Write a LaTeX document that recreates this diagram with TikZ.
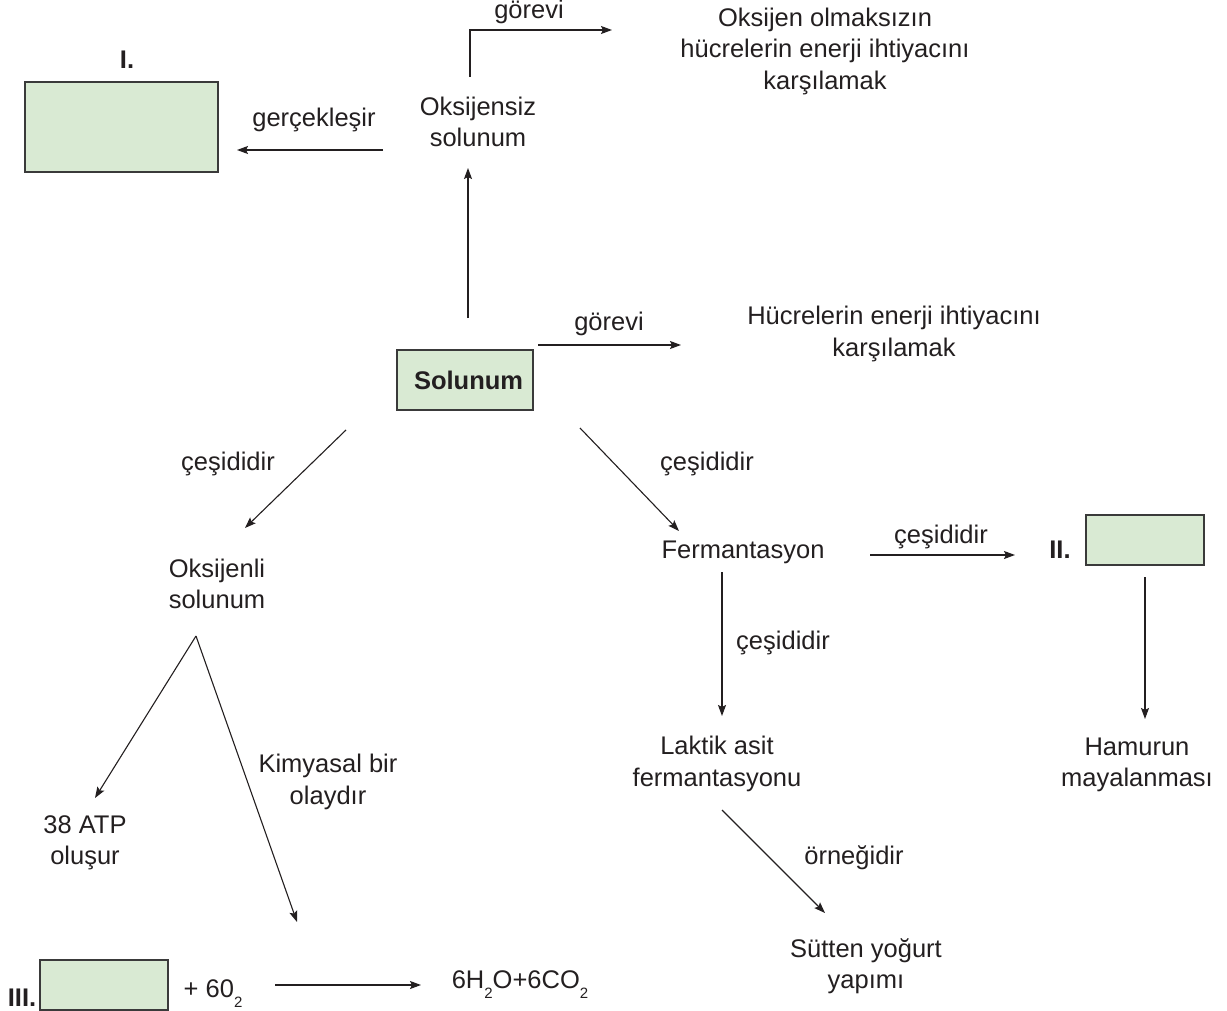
\documentclass[tikz,border=0pt]{standalone}
\usepackage{fontspec}
\setmainfont{Liberation Sans}
\usetikzlibrary{arrows.meta}
\definecolor{boxfill}{HTML}{D9EAD3}
\definecolor{boxdraw}{HTML}{3A3A3A}
\definecolor{txt}{HTML}{231F20}
\newcommand{\lowsub}[1]{\raisebox{-10pt}{\fontsize{15}{15}\selectfont #1}}
\tikzset{
  lbl/.style={font=\fontsize{25.5}{31.5}\selectfont, text=txt, align=center, inner sep=0pt},
  blbl/.style={lbl, font=\fontsize{25.5}{31.5}\selectfont\bfseries},
  gbox/.style={draw=boxdraw, fill=boxfill, line width=1.3pt, inner sep=0pt},
  arr/.style={-{Stealth[length=11pt,width=8pt,inset=2pt]}, line width=1.1pt, draw=txt},
  ln/.style={line width=1.1pt, draw=txt}
}
\begin{document}
\begin{tikzpicture}[x=1pt,y=-1pt]
\useasboundingbox (0,0) rectangle (1227,1011);
% boxes
\node[gbox, minimum width=193pt, minimum height=90pt] (boxI) at (121.5,127) {};
\node[blbl] (lI) at (127,60) {I.};
\node[gbox, minimum width=136pt, minimum height=60pt, blbl] (sol) at (465,380) {\ Solunum};
\node[gbox, minimum width=118pt, minimum height=50pt] (boxII) at (1145,540) {};
\node[blbl] (lII) at (1060,550) {II.};
\node[gbox, minimum width=128pt, minimum height=50pt] (boxIII) at (104,985) {};
\node[blbl] (lIII) at (22,998) {III.};
% texts
\node[lbl] (oksz) at (478,122) {Oksijensiz\\solunum};
\node[lbl] (gorevi1) at (529,12) {görevi};
\node[lbl] (gerc) at (314,120) {gerçekleşir};
\node[lbl] (okst) at (825,51) {Oksijen olmaksızın\\hücrelerin enerji ihtiyacını\\karşılamak};
\node[lbl] (gorevi2) at (609,324) {görevi};
\node[lbl] (huc) at (894,334) {Hücrelerin enerji ihtiyacını\\karşılamak};
\node[lbl] (ces1) at (228,464) {çeşididir};
\node[lbl] (ces2) at (707,464) {çeşididir};
\node[lbl] (okl) at (217,584) {Oksijenli\\solunum};
\node[lbl] (ferm) at (743,552) {Fermantasyon};
\node[lbl] (ces3) at (941,537) {çeşididir};
\node[lbl] (ces4) at (783,643) {çeşididir};
\node[lbl] (hamur) at (1137,765) {Hamurun\\mayalanması};
\node[lbl] (laktik) at (717,764) {Laktik asit\\fermantasyonu};
\node[lbl] (ornek) at (854,858) {örneğidir};
\node[lbl] (sut) at (866,966) {Sütten yoğurt\\yapımı};
\node[lbl] (kim) at (328,782) {Kimyasal bir\\olaydır};
\node[lbl] (atp) at (85,843) {38 ATP\\oluşur};
\node[lbl, anchor=base] (o2) at (213,997) {+ 60\lowsub{2}};
\node[lbl, anchor=base] (prod) at (520,988) {6H\lowsub{2}O+6CO\lowsub{2}};
% connector coordinates
\coordinate (a1s) at (383,150); \coordinate (a1e) at (237,150);
\coordinate (g1a) at (470,77); \coordinate (g1b) at (470,30); \coordinate (g1c) at (612,30);
\coordinate (u1s) at (468,318); \coordinate (u1e) at (468,168);
\coordinate (g2s) at (538,345); \coordinate (g2e) at (681,345);
\coordinate (c1s) at (346,430); \coordinate (c1e) at (245,528);
\coordinate (c2s) at (580,428); \coordinate (c2e) at (679,531);
\coordinate (c3s) at (870,555); \coordinate (c3e) at (1015,555);
\coordinate (d2s) at (1145,577); \coordinate (d2e) at (1145,719);
\coordinate (d1s) at (722,572); \coordinate (d1e) at (722,716);
\coordinate (o1s) at (722,810); \coordinate (o1e) at (825,913);
\coordinate (apex) at (196,636);
\coordinate (k1e) at (95,798); \coordinate (k2e) at (297,922);
\coordinate (r1s) at (275,985); \coordinate (r1e) at (421,985);
% connectors
\draw[arr] (a1s) -- (a1e);
\draw[arr] (g1a) -- (g1b) -- (g1c);
\draw[arr] (u1s) -- (u1e);
\draw[arr] (g2s) -- (g2e);
\draw[arr] (c1s) -- (c1e);
\draw[arr] (c2s) -- (c2e);
\draw[arr] (c3s) -- (c3e);
\draw[arr] (d2s) -- (d2e);
\draw[arr] (d1s) -- (d1e);
\draw[arr] (o1s) -- (o1e);
\draw[arr] (apex) -- (k1e);
\draw[arr] (apex) -- (k2e);
\draw[arr] (r1s) -- (r1e);
\end{tikzpicture}
\end{document}
